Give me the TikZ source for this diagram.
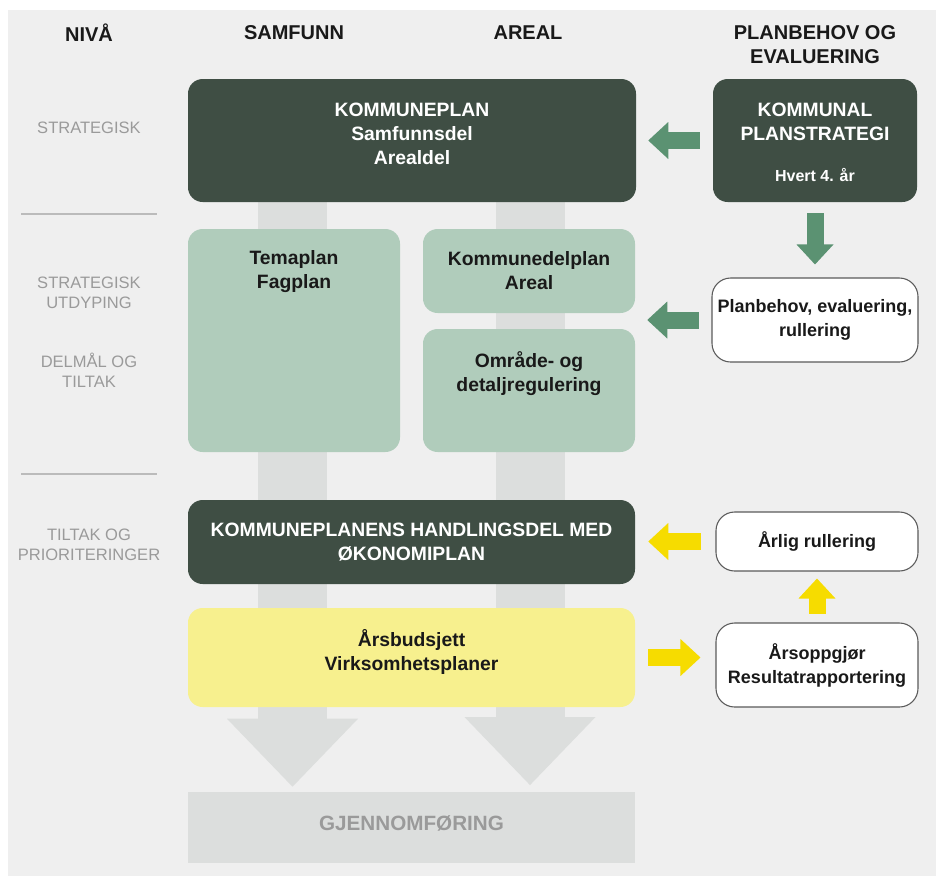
\documentclass[tikz,border=0pt]{standalone}
\usepackage{fontspec}
\setmainfont{Liberation Sans}
\usetikzlibrary{arrows.meta,backgrounds}
\definecolor{bgc}{HTML}{EFEFEF}
\definecolor{darkg}{HTML}{3F4E44}
\definecolor{lightg}{HTML}{B0CCBB}
\definecolor{greenA}{HTML}{5B9272}
\definecolor{yelbox}{HTML}{F7F08E}
\definecolor{yelA}{HTML}{F6DC00}
\definecolor{colg}{HTML}{DCDEDD}
\definecolor{lblg}{HTML}{9A9A9A}
\definecolor{rulec}{HTML}{BBBBBB}
\definecolor{boxline}{HTML}{5A5A5A}
\begin{document}
\begin{tikzpicture}[x=0.75pt,y=-0.75pt,
  txt/.style={font=\bfseries\fontsize{14.5}{18}\selectfont, align=center, inner sep=0pt},
  small/.style={font=\bfseries\fontsize{13.5}{18}\selectfont, align=center, inner sep=0pt},
  head/.style={font=\bfseries\fontsize{15}{18}\selectfont, align=center, inner sep=0pt, text=black!90},
  lvl/.style={font=\fontsize{12.4}{15}\selectfont, align=center, inner sep=0pt, text=lblg},
  darkbox/.style={fill=darkg, rounded corners=11pt, inner sep=0pt},
  lightbox/.style={fill=lightg, rounded corners=11pt, inner sep=0pt},
  yellowbox/.style={fill=yelbox, rounded corners=11pt, inner sep=0pt},
  whitebox/.style={fill=white, draw=boxline, line width=0.8pt, rounded corners=14pt, inner sep=0pt},
  graybox/.style={fill=colg, inner sep=0pt},
  garrow/.style={draw=greenA, line width=12.75pt, line cap=rect, -{Triangle[length=15pt,width=27.75pt,line width=0pt]}},
  yarrow/.style={draw=yelA, line width=12.75pt, line cap=rect, -{Triangle[length=15pt,width=27.75pt,line width=0pt]}},
  colarrow/.style={draw=colg, line width=51.75pt, -{Triangle[length=51pt,width=98.25pt,line width=0pt]}},
  rule/.style={draw=rulec, line width=1.5pt}
]
\useasboundingbox (0,0) rectangle (936,876);

% headers
\node[head] (hNiva) at (89,33) {NIVÅ};
\node[head] (hSam) at (294,33) {SAMFUNN};
\node[head] (hAre) at (528,33) {AREAL};
\node[head] (hPlan) at (815,45) {PLANBEHOV OG\\EVALUERING};

% level labels
\node[lvl] (l1) at (89,128) {STRATEGISK};
\node[lvl] (l2) at (89,292.5) {STRATEGISK\\UTDYPING};
\node[lvl] (l3) at (89,370.5) {DELMÅL OG\\TILTAK};
\node[lvl] (l4) at (89,545) {TILTAK OG\\PRIORITERINGER};
\coordinate (r1a) at (21,214); \coordinate (r1b) at (157,214);
\coordinate (r2a) at (21,474); \coordinate (r2b) at (157,474);
\draw[rule] (r1a) -- (r1b);
\draw[rule] (r2a) -- (r2b);

% boxes
\node[darkbox, minimum width=336pt, minimum height=92.25pt] (kp) at (412,140.5) {};
\node[txt, text=white] (kpT) at (412,134) {KOMMUNEPLAN\\Samfunnsdel\\Arealdel};

\node[darkbox, minimum width=153pt, minimum height=92.25pt] (kps) at (815,140.5) {};
\node[txt, text=white] (kpsT) at (815,121.5) {KOMMUNAL\\PLANSTRATEGI};
\node[font=\bfseries\fontsize{12}{14}\selectfont, text=white, inner sep=0pt] (kpsH) at (815,175) {Hvert 4. år};

\node[lightbox, minimum width=159pt, minimum height=167.25pt] (tema) at (294,340.5) {};
\node[txt, text=black!90] (temaT) at (294,271.5) {Temaplan\\Fagplan};

\node[lightbox, txt, text=black!90, minimum width=159pt, minimum height=63pt] (kdp) at (529,271) {Kommunedelplan\\Areal};

\node[lightbox, minimum width=159pt, minimum height=92.25pt] (omr) at (529,390.5) {};
\node[txt, text=black!90] (omrT) at (529,373.5) {Område- og\\detaljregulering};

\node[whitebox, small, text=black!90, minimum width=154.5pt, minimum height=63pt] (pbe) at (815,320) {Planbehov, evaluering,\\rullering};

\node[darkbox, txt, text=white, minimum width=335.25pt, minimum height=63pt] (hd) at (411.5,542) {KOMMUNEPLANENS HANDLINGSDEL MED\\ØKONOMIPLAN};

\node[whitebox, small, text=black!90, minimum width=151.5pt, minimum height=44.25pt] (arl) at (817,541.5) {Årlig rullering};

\node[yellowbox, minimum width=335.25pt, minimum height=74.25pt] (ab) at (411.5,657.5) {};
\node[txt, text=black!90] (abT) at (411.5,652) {Årsbudsjett\\Virksomhetsplaner};

\node[whitebox, small, text=black!90, minimum width=151.5pt, minimum height=63pt] (ao) at (817,665) {Årsoppgjør\\Resultatrapportering};

\node[graybox, minimum width=335.25pt, minimum height=53.25pt] (gj) at (411.5,827.5) {};
\node[font=\bfseries\fontsize{15.5}{18}\selectfont, text=lblg, inner sep=0pt] (gjT) at (411.5,823) {GJENNOMFØRING};

% arrows
\draw[garrow, shorten <=16.1pt, shorten >=9pt] (kps.west) -- (kp.east);
\draw[garrow, shorten <=14.6pt, shorten >=9.75pt] (kps.south) -- (pbe.north);
\draw[garrow, shorten <=15.4pt, shorten >=9pt] (pbe.west) -- (pbe.west -| kdp.east);
\draw[yarrow, shorten <=17.6pt, shorten >=9.75pt] (arl.west) -- (arl.west -| hd.east);
\draw[yarrow, shorten <=16.1pt, shorten >=11.25pt] (ab.east) -- (ab.east -| ao.west);
\draw[yarrow, shorten <=12.4pt, shorten >=5.25pt] (ao.north) -- (arl.south);

\begin{pgfonlayer}{background}
  \fill[white] (0,0) rectangle (936,876);
  \fill[bgc] (8,10) rectangle (936,876);
  \coordinate (cs) at (292.5,0);
  \coordinate (ca) at (530,0);
  \draw[colarrow, shorten >=3.75pt] (kp.south -| cs) -- (gj.north -| cs);
  \draw[colarrow, shorten >=5pt] (kp.south -| ca) -- (gj.north -| ca);
\end{pgfonlayer}
\end{tikzpicture}
\end{document}
